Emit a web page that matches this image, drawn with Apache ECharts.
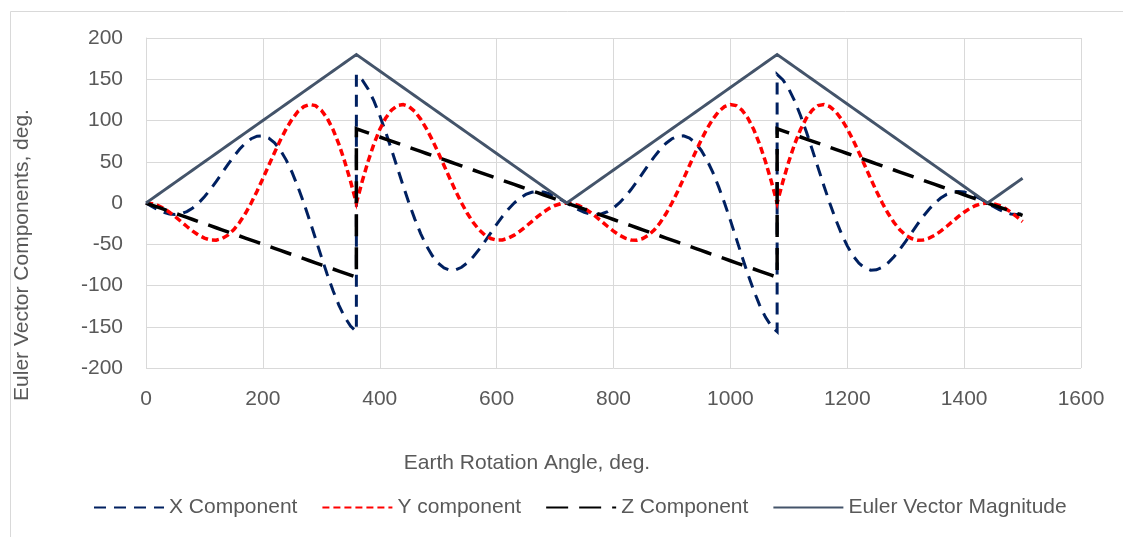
<!doctype html>
<html>
<head>
<meta charset="utf-8">
<title>Euler Vector Components</title>
<style>
  html, body { margin: 0; padding: 0; background: #fff; }
  #main { width: 1123px; height: 537px; }
</style>
</head>
<body>
<div id="main"></div>
<script src="https://cdn.jsdelivr.net/npm/echarts@6/dist/echarts.min.js"></script>
<script>
// earth rotation angle, deg. (360 and 1080 appear twice: the components flip there)
var angles = [
  0, 10, 20, 30, 40, 50, 60, 70, 80, 90, 100, 110, 120, 130, 140, 150, 160, 170, 180,
  190, 200, 210, 220, 230, 240, 250, 260, 270, 280, 290, 300, 310, 320, 330, 340, 350, 360,
  360, 370, 380, 390, 400, 410, 420, 430, 440, 450, 460, 470, 480, 490, 500, 510, 520, 530,
  540, 550, 560, 570, 580, 590, 600, 610, 620, 630, 640, 650, 660, 670, 680, 690, 700, 710, 720,
  730, 740, 750, 760, 770, 780, 790, 800, 810, 820, 830, 840, 850, 860, 870, 880, 890, 900,
  910, 920, 930, 940, 950, 960, 970, 980, 990, 1000, 1010, 1020, 1030, 1040, 1050, 1060, 1070, 1080,
  1080, 1090, 1100, 1110, 1120, 1130, 1140, 1150, 1160, 1170, 1180, 1190, 1200, 1210, 1220, 1230,
  1240, 1250, 1260, 1270, 1280, 1290, 1300, 1310, 1320, 1330, 1340, 1350, 1360, 1370, 1380, 1390,
  1400, 1410, 1420, 1430, 1440,
  1450, 1460, 1470, 1480, 1490, 1500
];

var xComponent = [
  0, -4.3, -8.1, -11.2, -13.3, -13.9, -13.0, -10.4, -6.0, 0, 7.5, 16.3, 26.0, 36.2, 46.4, 56.2, 65.1, 72.5, 77.9,
  81.0, 81.4, 78.7, 73.0, 64.0, 52.0, 37.0, 19.5, 0, -21.0, -42.9, -65.0, -86.3, -106.1, -123.7, -138.3, -149.2, -155.9,
  155.9, 149.2, 138.3, 123.7, 106.1, 86.3, 65.0, 42.9, 21.0, 0, -19.5, -37.0, -52.0, -64.0, -73.0, -78.7, -81.4, -81.0,
  -77.9, -72.5, -65.1, -56.2, -46.4, -36.2, -26.0, -16.3, -7.5, 0, 6.0, 10.4, 13.0, 13.9, 13.3, 11.2, 8.1, 4.3, 0,
  -4.3, -8.1, -11.2, -13.3, -13.9, -13.0, -10.4, -6.0, 0, 7.5, 16.3, 26.0, 36.2, 46.4, 56.2, 65.1, 72.5, 77.9,
  81.0, 81.4, 78.7, 73.0, 64.0, 52.0, 37.0, 19.5, 0, -21.0, -42.9, -65.0, -86.3, -106.1, -123.7, -138.3, -149.2, -155.9,
  155.9, 149.2, 138.3, 123.7, 106.1, 86.3, 65.0, 42.9, 21.0, 0, -19.5, -37.0, -52.0, -64.0, -73.0, -78.7,
  -81.4, -81.0, -77.9, -72.5, -65.1, -56.2, -46.4, -36.2, -26.0, -16.3, -7.5, 0, 6.0, 10.4, 13.0, 13.9,
  13.3, 11.2, 8.1, 4.3, 0,
  -4.3, -8.1, -11.2, -13.3, -13.9, -13.0
];

var yComponent = [
  0, -0.8, -3.0, -6.5, -11.1, -16.6, -22.5, -28.5, -34.1, -39.0, -42.6, -44.8, -45.0, -43.1, -39.0, -32.5, -23.7, -12.8, 0,
  14.3, 29.6, 45.5, 61.2, 76.3, 90.0, 101.7, 110.9, 116.9, 119.4, 118.0, 112.5, 102.8, 89.1, 71.5, 50.4, 26.3, 0,
  0, 26.3, 50.4, 71.5, 89.1, 102.8, 112.5, 118.0, 119.4, 116.9, 110.9, 101.7, 90.0, 76.3, 61.2, 45.5, 29.6, 14.3,
  0, -12.8, -23.7, -32.5, -39.0, -43.1, -45.0, -44.8, -42.6, -39.0, -34.1, -28.5, -22.5, -16.6, -11.1, -6.5, -3.0, -0.8, 0,
  -0.8, -3.0, -6.5, -11.1, -16.6, -22.5, -28.5, -34.1, -39.0, -42.6, -44.8, -45.0, -43.1, -39.0, -32.5, -23.7, -12.8, 0,
  14.3, 29.6, 45.5, 61.2, 76.3, 90.0, 101.7, 110.9, 116.9, 119.4, 118.0, 112.5, 102.8, 89.1, 71.5, 50.4, 26.3, 0,
  0, 26.3, 50.4, 71.5, 89.1, 102.8, 112.5, 118.0, 119.4, 116.9, 110.9, 101.7, 90.0, 76.3, 61.2, 45.5,
  29.6, 14.3, 0, -12.8, -23.7, -32.5, -39.0, -43.1, -45.0, -44.8, -42.6, -39.0, -34.1, -28.5, -22.5, -16.6,
  -11.1, -6.5, -3.0, -0.8, 0,
  -0.8, -3.0, -6.5, -11.1, -16.6, -22.5
];

var zComponent = [
  0, -2.5, -5, -7.5, -10, -12.5, -15, -17.5, -20, -22.5, -25, -27.5, -30, -32.5, -35, -37.5, -40, -42.5, -45,
  -47.5, -50, -52.5, -55, -57.5, -60, -62.5, -65, -67.5, -70, -72.5, -75, -77.5, -80, -82.5, -85, -87.5, -90,
  90, 87.5, 85, 82.5, 80, 77.5, 75, 72.5, 70, 67.5, 65, 62.5, 60, 57.5, 55, 52.5, 50, 47.5,
  45, 42.5, 40, 37.5, 35, 32.5, 30, 27.5, 25, 22.5, 20, 17.5, 15, 12.5, 10, 7.5, 5, 2.5, 0,
  -2.5, -5, -7.5, -10, -12.5, -15, -17.5, -20, -22.5, -25, -27.5, -30, -32.5, -35, -37.5, -40, -42.5, -45,
  -47.5, -50, -52.5, -55, -57.5, -60, -62.5, -65, -67.5, -70, -72.5, -75, -77.5, -80, -82.5, -85, -87.5, -90,
  90, 87.5, 85, 82.5, 80, 77.5, 75, 72.5, 70, 67.5, 65, 62.5, 60, 57.5, 55, 52.5,
  50, 47.5, 45, 42.5, 40, 37.5, 35, 32.5, 30, 27.5, 25, 22.5, 20, 17.5, 15, 12.5,
  10, 7.5, 5, 2.5, 0,
  -2.5, -5, -7.5, -10, -12.5, -15
];

var magnitude = [
  0, 5, 10, 15, 20, 25, 30, 35, 40, 45, 50, 55, 60, 65, 70, 75, 80, 85, 90,
  95, 100, 105, 110, 115, 120, 125, 130, 135, 140, 145, 150, 155, 160, 165, 170, 175, 180,
  180, 175, 170, 165, 160, 155, 150, 145, 140, 135, 130, 125, 120, 115, 110, 105, 100, 95,
  90, 85, 80, 75, 70, 65, 60, 55, 50, 45, 40, 35, 30, 25, 20, 15, 10, 5, 0,
  5, 10, 15, 20, 25, 30, 35, 40, 45, 50, 55, 60, 65, 70, 75, 80, 85, 90,
  95, 100, 105, 110, 115, 120, 125, 130, 135, 140, 145, 150, 155, 160, 165, 170, 175, 180,
  180, 175, 170, 165, 160, 155, 150, 145, 140, 135, 130, 125, 120, 115, 110, 105,
  100, 95, 90, 85, 80, 75, 70, 65, 60, 55, 50, 45, 40, 35, 30, 25,
  20, 15, 10, 5, 0,
  5, 10, 15, 20, 25, 30
];

var seriesNames = ['X Component', 'Y component', 'Z Component', 'Euler Vector Magnitude'];
var xTitle = 'Earth Rotation Angle, deg.';
var yTitle = 'Euler Vector Components, deg.';

var FONT = '"Liberation Sans", Arial, sans-serif';
var TEXT = '#595959';
var GRID = '#d9d9d9';

function pairs(values) {
  return angles.map(function (a, i) { return [a, values[i]]; });
}

function lineSeries(name, values, color, width, dash) {
  return {
    name: name,
    type: 'line',
    data: pairs(values),
    showSymbol: false,
    symbol: 'none',
    animation: false,
    lineStyle: { color: color, width: width, type: dash, cap: 'butt', join: 'miter' },
    itemStyle: { color: color }
  };
}

var chart = echarts.init(document.getElementById('main'), null, { renderer: 'canvas' });

chart.setOption({
  backgroundColor: '#fff',
  animation: false,
  grid: { left: 146, right: 42, top: 38, bottom: 169, containLabel: false },
  xAxis: {
    type: 'value',
    min: 0, max: 1600, interval: 200,
    axisLine: { show: true, lineStyle: { color: GRID, width: 1 } },
    axisTick: { show: false },
    axisLabel: {
      color: TEXT, fontFamily: FONT, fontSize: 21, margin: 21,
      formatter: function (v) { return String(v); }
    },
    splitLine: { show: true, lineStyle: { color: GRID, width: 1 } }
  },
  yAxis: {
    type: 'value',
    min: -200, max: 200, interval: 50,
    axisLine: { show: true, lineStyle: { color: GRID, width: 1 } },
    axisTick: { show: false },
    axisLabel: { color: TEXT, fontFamily: FONT, fontSize: 21, margin: 23 },
    splitLine: { show: true, lineStyle: { color: GRID, width: 1 } }
  },
  legend: {
    data: seriesNames,
    left: 88,
    top: 492,
    itemWidth: 70,
    itemHeight: 14,
    itemGap: 24,
    itemStyle: { opacity: 0, borderWidth: 0 },
    textStyle: { color: TEXT, fontFamily: FONT, fontSize: 21, padding: [0, 0, 0, 0] }
  },
  graphic: [
    {
      type: 'rect',
      left: 8, top: 9,
      shape: { width: 1130, height: 540 },
      style: { fill: 'none', stroke: GRID, lineWidth: 1 },
      silent: true
    },
    {
      type: 'text',
      x: 527, y: 463,
      style: { text: xTitle, fill: TEXT, font: '21px ' + FONT, align: 'center', verticalAlign: 'middle' }
    },
    {
      type: 'text',
      x: 22, y: 255,
      rotation: Math.PI / 2,
      style: { text: yTitle, fill: TEXT, font: '21px ' + FONT, align: 'center', verticalAlign: 'middle' }
    }
  ],
  series: [
    lineSeries(seriesNames[0], xComponent, '#002060', 3, [12, 8]),
    lineSeries(seriesNames[1], yComponent, '#ff0000', 3.5, [7, 4]),
    lineSeries(seriesNames[2], zComponent, '#000000', 3.5, [22, 11]),
    lineSeries(seriesNames[3], magnitude, '#44546a', 3, 'solid')
  ]
});

window.onresize = chart.resize;
</script>
</body>
</html>
